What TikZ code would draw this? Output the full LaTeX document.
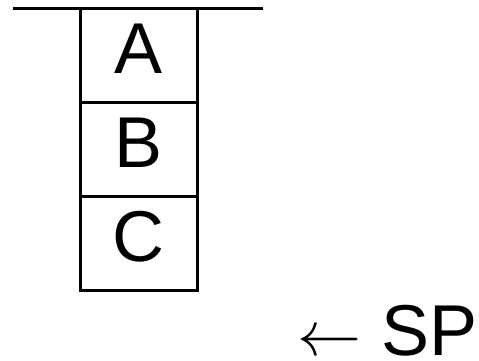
\RequirePackage{fix-cm}
\documentclass[tikz,border=0pt]{standalone}
\usepackage{fontspec}
\setmainfont{Liberation Sans}
\begin{document}
\begin{tikzpicture}[x=1pt,y=-1pt,
  cell/.style={draw,line width=3pt,minimum width=117pt,minimum height=94pt,inner sep=0pt,outer sep=0pt,
    font=\fontsize{72}{80}\selectfont,text height=52pt,text depth=16pt},
  bar/.style={line width=3pt}]
\useasboundingbox (0,0) rectangle (479,360);
\node[cell] (A) at (138.5,55) {A};
\node[cell,anchor=north] (B) at (A.south) {B};
\node[cell,anchor=north] (C) at (B.south) {C};
\coordinate (L) at (13,8);
\coordinate (R) at (263,8);
\draw[bar] (L) -- (R);
\node[anchor=base east,inner sep=0pt,font=\fontsize{72}{80}\selectfont] (SP) at (478,355) {{\fontsize{64}{70}\selectfont$\leftarrow$} SP};
\end{tikzpicture}
\end{document}
